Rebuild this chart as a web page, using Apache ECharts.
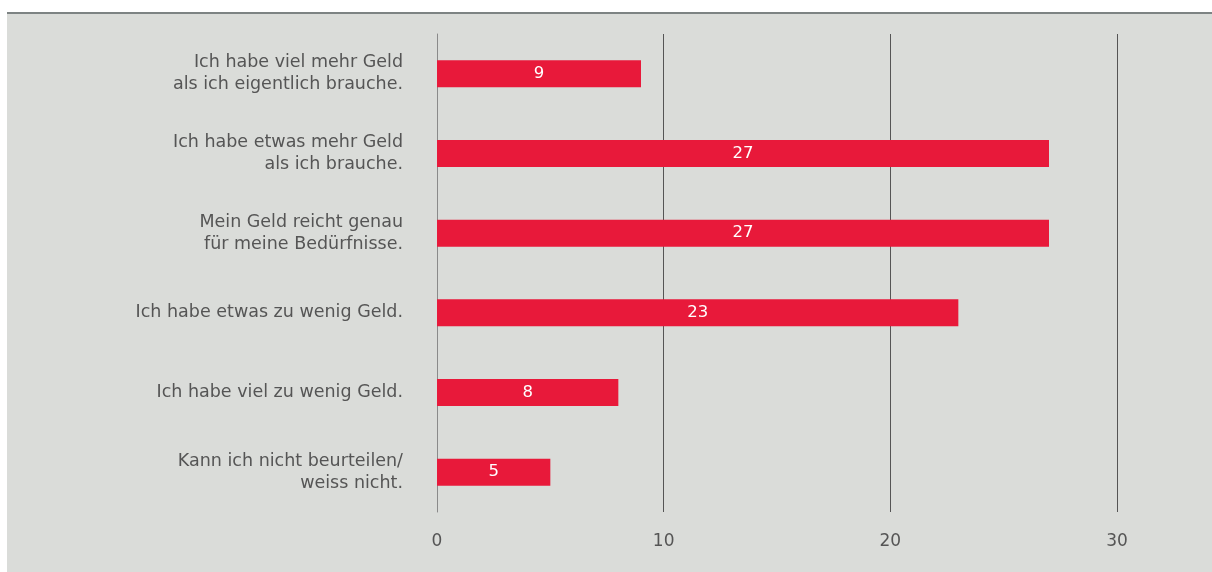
<!DOCTYPE html>
<html>
<head>
<meta charset="utf-8">
<script src="https://cdn.jsdelivr.net/npm/echarts@6/dist/echarts.min.js"></script>
<style>
  html, body { margin: 0; padding: 0; background: #ffffff; }
  #chart { width: 1212px; height: 572px; }
</style>
</head>
<body>
<div id="chart"></div>
<script>
const categories = [
  "Ich habe viel mehr Geld\nals ich eigentlich brauche.",
  "Ich habe etwas mehr Geld\nals ich brauche.",
  "Mein Geld reicht genau\nfür meine Bedürfnisse.",
  "Ich habe etwas zu wenig Geld.",
  "Ich habe viel zu wenig Geld.",
  "Kann ich nicht beurteilen/\nweiss nicht."
];
const values = [9, 27, 27, 23, 8, 5];
const xTicks = [0, 10, 20, 30];

const chart = echarts.init(document.getElementById("chart"));

const option = {
  backgroundColor: "#ffffff",
  textStyle: { fontFamily: "DejaVu Sans, Open Sans, sans-serif" },
  graphic: [
    // grey panel with a darker rule along the top
    { type: "rect", z: -10, shape: { x: 7, y: 12, width: 1205, height: 560 }, style: { fill: "#dadcd9" } },
    { type: "rect", z: -9, shape: { x: 7, y: 12, width: 1205, height: 2 }, style: { fill: "#7d8383" } }
  ],
  grid: { left: 437, right: 95, top: 34, bottom: 60, containLabel: false },
  xAxis: {
    type: "value",
    min: xTicks[0],
    max: xTicks[xTicks.length - 1],
    interval: 10,
    axisLine: { show: false },
    axisTick: { show: false },
    axisLabel: { color: "#555555", fontSize: 17, margin: 21 },
    splitLine: { show: true, lineStyle: { color: "#555555", width: 1 } }
  },
  yAxis: {
    type: "category",
    inverse: true,
    data: categories,
    axisLine: { show: true, lineStyle: { color: "#8a8a8a", width: 1 } },
    axisTick: { show: false },
    axisLabel: { color: "#555555", fontSize: 17.5, lineHeight: 22, margin: 34, align: "right", padding: [3, 0, 0, 0] }
  },
  series: [{
    type: "bar",
    data: values,
    barWidth: 27,
    itemStyle: { color: "#e8193a" },
    label: { show: true, position: "inside", color: "#ffffff", fontSize: 16.5 }
  }]
};

chart.setOption(option);
</script>
</body>
</html>
